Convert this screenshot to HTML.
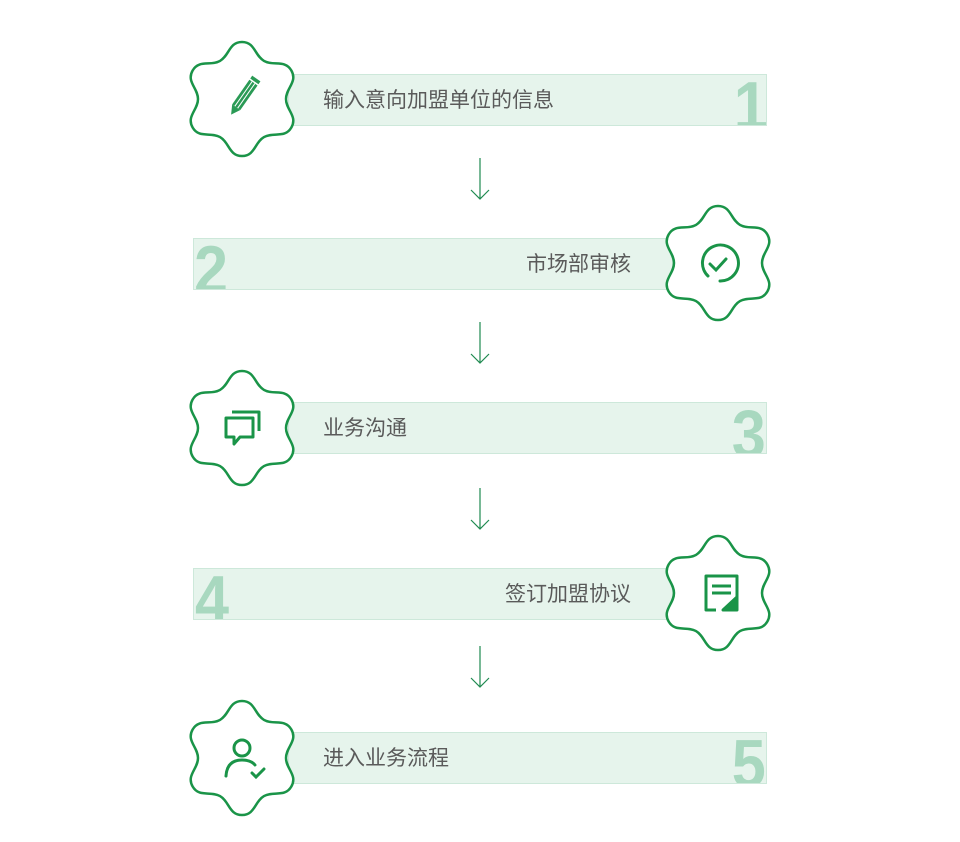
<!DOCTYPE html>
<html><head><meta charset="utf-8"><style>
body{margin:0;background:#fff;width:960px;height:842px;overflow:hidden;position:relative;font-family:"Liberation Sans","Noto Sans CJK SC",sans-serif}
.box{position:absolute;height:52px;background:#e6f4ec;border:1px solid #cde8da;box-sizing:border-box;overflow:hidden}
.t{position:absolute;top:13px;font-size:21px;color:#5a5a5a;line-height:26px;white-space:nowrap}
.n{position:absolute;bottom:-15px;font-family:"Liberation Sans",sans-serif;font-size:68px;font-weight:bold;color:#a8d8bf;line-height:68px;transform:scaleX(0.9)}
svg.abs{position:absolute;left:0;top:0}
</style></head><body>
<div class="box" style="left:288px;top:74px;width:479px"><div class="t" style="left:34px">输入意向加盟单位的信息</div><div class="n" style="right:-2px;transform-origin:right">1</div></div>
<div class="box" style="left:193px;top:238px;width:480px"><div class="t" style="right:41px">市场部审核</div><div class="n" style="left:0;transform-origin:left">2</div></div>
<div class="box" style="left:288px;top:402px;width:479px"><div class="t" style="left:34px">业务沟通</div><div class="n" style="right:0;transform-origin:right">3</div></div>
<div class="box" style="left:193px;top:568px;width:480px"><div class="t" style="right:41px">签订加盟协议</div><div class="n" style="left:1px;transform-origin:left">4</div></div>
<div class="box" style="left:288px;top:732px;width:479px"><div class="t" style="left:34px">进入业务流程</div><div class="n" style="right:0;transform-origin:right">5</div></div>
<svg class="abs" width="960" height="842" viewBox="0 0 960 842">
<defs><path id="b" d="M0,-57 C13,-57 12.47,-43.6 22,-38.1 C31.53,-32.6 42.86,-39.76 49.36,-28.5 C55.86,-17.24 44,-11 44,0 C44,11 55.86,17.24 49.36,28.5 C42.86,39.76 31.53,32.6 22,38.1 C12.47,43.6 13,57 0,57 C-13,57 -12.47,43.6 -22,38.1 C-31.53,32.6 -42.86,39.76 -49.36,28.5 C-55.86,17.24 -44,11 -44,0 C-44,-11 -55.86,-17.24 -49.36,-28.5 C-42.86,-39.76 -31.53,-32.6 -22,-38.1 C-12.47,-43.6 -13,-57 0,-57Z" fill="#fff" stroke="#1a9448" stroke-width="2.5"/></defs>
<g stroke="#1f8a50" stroke-width="1.2" fill="none">
<path d="M480,158V199M471,190L480,199L489,190"/>
<path d="M480,322V363M471,354L480,363L489,354"/>
<path d="M480,488V529M471,520L480,529L489,520"/>
<path d="M480,646V687M471,678L480,687L489,678"/>
</g>
<use href="#b" x="242" y="99"/>
<use href="#b" x="718" y="263"/>
<use href="#b" x="242" y="428"/>
<use href="#b" x="718" y="593"/>
<use href="#b" x="242" y="758"/>
<g transform="translate(242,99) rotate(35)">
<rect x="-5" y="-20" width="10" height="30" fill="#2a9a55"/>
<path d="M-5,10 L0,19 L5,10Z" fill="#2a9a55"/>
<path d="M-1.7,-20V10M1.7,-20V10" stroke="#fff" stroke-width="1"/>
<rect x="-5" y="-25" width="10" height="3.5" fill="#2a9a55"/>
</g>
<g fill="none" stroke="#1a9448" stroke-width="3" stroke-linecap="round">
<path d="M708,276 A18,18 0 1 1 720,281"/>
<path d="M710,264L716,270L726,259"/>
</g>
<g fill="none" stroke="#1a9448" stroke-width="3" stroke-linejoin="round">
<path d="M226,418H253V437H240L234,444V437H226Z"/>
<path d="M232,412H259V431"/>
</g>
<g fill="none" stroke="#1a9448" stroke-width="3" stroke-linejoin="round">
<path d="M716,610H706V576H737V597"/>
<path d="M712,586H731M712,593H731"/>
<path d="M723,610L737,597V610Z" fill="#1a9448"/>
</g>
<g fill="none" stroke="#1a9448" stroke-width="3" stroke-linecap="round">
<circle cx="242" cy="748" r="8"/>
<path d="M226,776Q227,760 242,760Q251,760 255,765"/>
<path d="M252,773L256,777L264,769"/>
</g>
</svg>
</body></html>
